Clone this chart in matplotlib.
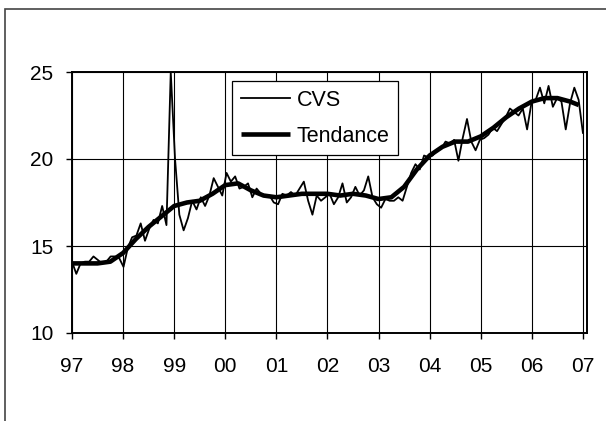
import numpy as np
import matplotlib
matplotlib.use('Agg')
import matplotlib.pyplot as plt
from matplotlib.patches import Rectangle

plt.rcParams['font.family'] = ['Liberation Sans', 'DejaVu Sans']

# monthly CVS series, Jan 1997 .. Dec 2006
cvs_1997 = [14.1, 13.4, 14.0, 14.1, 14.1, 14.4, 14.2, 14.0, 14.1, 14.4, 14.4, 14.3]
cvs_1998 = [13.8, 14.9, 15.5, 15.6, 16.3, 15.3, 16.0, 16.5, 16.3, 17.3, 16.2, 25.0]
cvs_1999 = [20.0, 16.8, 15.9, 16.6, 17.6, 17.1, 17.8, 17.3, 17.9, 18.9, 18.4, 17.9]
cvs_2000 = [19.2, 18.7, 19.0, 18.3, 18.4, 18.6, 17.8, 18.3, 18.0, 17.9, 17.9, 17.5]
cvs_2001 = [17.4, 18.0, 17.9, 18.1, 17.9, 18.3, 18.7, 17.6, 16.8, 17.9, 17.6, 17.8]
cvs_2002 = [18.0, 17.4, 17.8, 18.6, 17.5, 17.8, 18.4, 17.9, 18.2, 19.0, 17.8, 17.4]
cvs_2003 = [17.2, 17.7, 17.6, 17.6, 17.8, 17.6, 18.4, 19.2, 19.7, 19.4, 20.2, 20.1]
cvs_2004 = [20.2, 20.5, 20.6, 21.0, 20.9, 21.1, 19.9, 21.2, 22.3, 21.0, 20.5, 21.1]
cvs_2005 = [21.2, 21.4, 21.8, 21.6, 22.0, 22.4, 22.9, 22.7, 22.5, 22.9, 21.7, 23.2]
cvs_2006 = [23.4, 24.1, 23.2, 24.2, 23.0, 23.5, 23.3, 21.7, 23.2, 24.1, 23.4, 21.5]
cvs = (cvs_1997 + cvs_1998 + cvs_1999 + cvs_2000 + cvs_2001
       + cvs_2002 + cvs_2003 + cvs_2004 + cvs_2005 + cvs_2006)

# trend, read quarterly
trend_dates = [1997.0, 1997.25, 1997.5, 1997.75, 1998.0, 1998.25, 1998.5, 1998.75,
               1999.0, 1999.25, 1999.5, 1999.75, 2000.0, 2000.25, 2000.5, 2000.75,
               2001.0, 2001.25, 2001.5, 2001.75, 2002.0, 2002.25, 2002.5, 2002.75,
               2003.0, 2003.25, 2003.5, 2003.75, 2004.0, 2004.25, 2004.5, 2004.75,
               2005.0, 2005.25, 2005.5, 2005.75, 2006.0, 2006.25, 2006.5, 2006.75,
               2006.92]
trend = [14.0, 14.0, 14.0, 14.1, 14.6, 15.4, 16.1, 16.7,
         17.3, 17.5, 17.6, 18.0, 18.5, 18.6, 18.2, 17.9,
         17.8, 17.9, 18.0, 18.0, 18.0, 17.9, 18.0, 17.9,
         17.7, 17.8, 18.4, 19.4, 20.2, 20.7, 21.0, 21.0,
         21.3, 21.8, 22.4, 22.9, 23.3, 23.5, 23.5, 23.3,
         23.1]

year_ticks = [1997, 1998, 1999, 2000, 2001, 2002, 2003, 2004, 2005, 2006, 2007]
year_labels = ['97', '98', '99', '00', '01', '02', '03', '04', '05', '06', '07']

months = 1997 + np.arange(len(cvs)) / 12.0 * (120 / 119)

fig = plt.figure(figsize=(6.06, 4.21), dpi=100)
# outer chart frame (partly cut off)
fig.patches.append(Rectangle((4.5 / 606, -0.1), 1.2, 1.1 - 9.5 / 421,
                             transform=fig.transFigure, fill=False,
                             edgecolor='#444444', linewidth=1.2, clip_on=False))

ax = fig.add_axes([72 / 606, 1 - 333 / 421, (587 - 72) / 606, (333 - 72) / 421])
ax.plot(months, cvs, color='black', linewidth=1.3, label='CVS')
ax.plot(trend_dates, trend, color='black', linewidth=3.3, label='Tendance',
        solid_capstyle='butt')

ax.set_xlim(1997, 2007.08)
ax.set_ylim(10, 25)
ax.set_yticks([10, 15, 20, 25])
ax.set_xticks(year_ticks)
ax.set_xticklabels(year_labels)
ax.grid(True, color='black', linewidth=0.8)
ax.set_axisbelow(True)
for s in ax.spines.values():
    s.set_linewidth(1.4)
ax.tick_params(direction='out', length=4, width=1, labelsize=15)
ax.tick_params(axis='y', pad=9.5)
ax.tick_params(axis='x', pad=13)

leg = ax.legend(loc='upper left', bbox_to_anchor=(232 / 606, 1 - 81 / 421),
                bbox_transform=fig.transFigure, borderaxespad=0, fontsize=15.5,
                fancybox=False, framealpha=1, edgecolor='black',
                handlelength=2.3, handletextpad=0.3, labelspacing=0.7,
                borderpad=0.4)
leg.get_frame().set_linewidth(0.9)

fig.savefig('out.png', dpi=100)
